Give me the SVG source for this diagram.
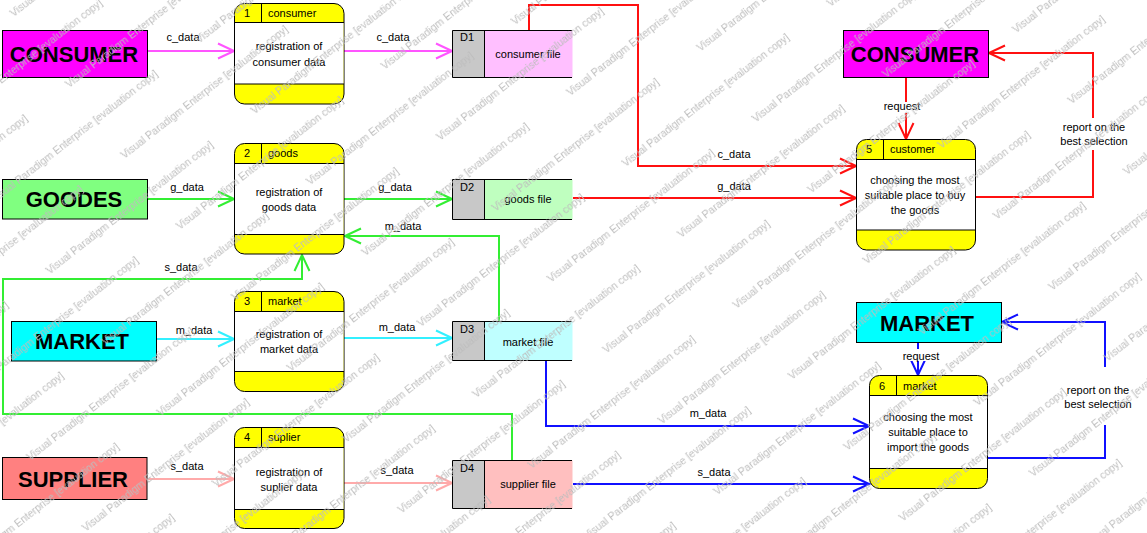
<svg xmlns="http://www.w3.org/2000/svg" width="1147" height="533" viewBox="0 0 1147 533">
  <style>
    text { font-family: "Liberation Sans", Arial, sans-serif; fill: #000; }
    .ent { stroke: #000; stroke-width: 1; }
    .ent-t { font-size: 22px; font-weight: bold; text-anchor: middle; }
    .proc { fill: #ffff00; stroke: #000; stroke-width: 1; }
    .body { fill: #fff; }
    .rule { stroke: #000; stroke-width: 1; fill: none; }
    .t { font-size: 11px; }
    .c { text-anchor: middle; }
    .store-id { fill: #c8c8c8; }
    .flow { fill: none; stroke-width: 2; }
    .gap { fill: #fff; }
    .wm { font-size: 10.5px; fill: #bdbdbd; }
  </style>
  <defs>
    <marker id="ah-mag" markerUnits="userSpaceOnUse" viewBox="-18 -10 20 20" refX="0" refY="0" markerWidth="20" markerHeight="20" orient="auto"><path d="M-16,-7.5 L0,0 L-16,7.5" fill="none" stroke="#ff55ff" stroke-width="2"/></marker>
    <marker id="ah-grn" markerUnits="userSpaceOnUse" viewBox="-18 -10 20 20" refX="0" refY="0" markerWidth="20" markerHeight="20" orient="auto"><path d="M-16,-7.5 L0,0 L-16,7.5" fill="none" stroke="#33ee33" stroke-width="2"/></marker>
    <marker id="ah-cyn" markerUnits="userSpaceOnUse" viewBox="-18 -10 20 20" refX="0" refY="0" markerWidth="20" markerHeight="20" orient="auto"><path d="M-16,-7.5 L0,0 L-16,7.5" fill="none" stroke="#33f0ff" stroke-width="2"/></marker>
    <marker id="ah-pnk" markerUnits="userSpaceOnUse" viewBox="-18 -10 20 20" refX="0" refY="0" markerWidth="20" markerHeight="20" orient="auto"><path d="M-16,-7.5 L0,0 L-16,7.5" fill="none" stroke="#ffaaaa" stroke-width="2"/></marker>
    <marker id="ah-red" markerUnits="userSpaceOnUse" viewBox="-18 -10 20 20" refX="0" refY="0" markerWidth="20" markerHeight="20" orient="auto"><path d="M-16,-7.5 L0,0 L-16,7.5" fill="none" stroke="#ff1010" stroke-width="2"/></marker>
    <marker id="ah-blu" markerUnits="userSpaceOnUse" viewBox="-18 -10 20 20" refX="0" refY="0" markerWidth="20" markerHeight="20" orient="auto"><path d="M-16,-7.5 L0,0 L-16,7.5" fill="none" stroke="#1010ff" stroke-width="2"/></marker>
    <pattern id="watermark" patternUnits="userSpaceOnUse" width="260" height="90" patternTransform="rotate(-38)">
      <text class="wm" x="0" y="22">Visual Paradigm Enterprise [evaluation copy]</text>
      <text class="wm" x="130" y="67">Visual Paradigm Enterprise [evaluation copy]</text>
      <text class="wm" x="-130" y="67">Visual Paradigm Enterprise [evaluation copy]</text>
    </pattern>
  </defs>

  <rect width="1147" height="533" fill="#fff"/>

  <!-- connectors -->
  <g id="connectors">
    <path class="flow" stroke="#ff55ff" d="M148,51 H234" marker-end="url(#ah-mag)"/>
    <text class="t c" x="183" y="41">c_data</text>
    <path class="flow" stroke="#ff55ff" d="M344,51 H452" marker-end="url(#ah-mag)"/>
    <text class="t c" x="393" y="41">c_data</text>

    <path class="flow" stroke="#33ee33" d="M148,199 H234" marker-end="url(#ah-grn)"/>
    <text class="t c" x="187" y="191">g_data</text>
    <path class="flow" stroke="#33ee33" d="M344,199 H452" marker-end="url(#ah-grn)"/>
    <text class="t c" x="395" y="191">g_data</text>
    <path class="flow" stroke="#33ee33" d="M499,321 V236 H345" marker-end="url(#ah-grn)"/>
    <text class="t c" x="403" y="230">m_data</text>
    <path class="flow" stroke="#33ee33" d="M512,460 V414 H3 V279 H302 V255" marker-end="url(#ah-grn)"/>
    <text class="t c" x="181" y="271">s_data</text>

    <path class="flow" stroke="#33f0ff" d="M157,339 H234" marker-end="url(#ah-cyn)"/>
    <text class="t c" x="194" y="334">m_data</text>
    <path class="flow" stroke="#33f0ff" d="M344,338 H452" marker-end="url(#ah-cyn)"/>
    <text class="t c" x="397" y="331">m_data</text>

    <path class="flow" stroke="#ffaaaa" d="M147,479 H234" marker-end="url(#ah-pnk)"/>
    <text class="t c" x="187" y="470">s_data</text>
    <path class="flow" stroke="#ffaaaa" d="M344,483 H452" marker-end="url(#ah-pnk)"/>
    <text class="t c" x="397" y="474">s_data</text>

    <path class="flow" stroke="#ff1010" d="M529,30 V5 H638 V166 H856" marker-end="url(#ah-red)"/>
    <text class="t c" x="734" y="158">c_data</text>
    <path class="flow" stroke="#ff1010" d="M573,198 H856" marker-end="url(#ah-red)"/>
    <text class="t c" x="734" y="190">g_data</text>
    <path class="flow" stroke="#ff1010" d="M906,78 V139" marker-end="url(#ah-red)"/>
    <rect class="gap" x="882" y="102" width="40" height="11"/>
    <text class="t c" x="902" y="110">request</text>
    <path class="flow" stroke="#ff1010" d="M976,197 H1093 V53 H989" marker-end="url(#ah-red)"/>
    <rect class="gap" x="1059" y="118" width="70" height="32"/>
    <text class="t c" x="1094" y="131">report on the</text>
    <text class="t c" x="1094" y="145">best selection</text>

    <path class="flow" stroke="#1010ff" d="M546,361 V426 H869" marker-end="url(#ah-blu)"/>
    <text class="t c" x="708" y="417">m_data</text>
    <path class="flow" stroke="#1010ff" d="M573,484 H869" marker-end="url(#ah-blu)"/>
    <text class="t c" x="714" y="476">s_data</text>
    <path class="flow" stroke="#1010ff" d="M918,343 V375" marker-end="url(#ah-blu)"/>
    <rect class="gap" x="902" y="349" width="40" height="12"/>
    <text class="t c" x="921" y="360">request</text>
    <path class="flow" stroke="#1010ff" d="M988,458 H1105 V322 H1002" marker-end="url(#ah-blu)"/>
    <rect class="gap" x="1064" y="367" width="70" height="58"/>
    <text class="t c" x="1098" y="394">report on the</text>
    <text class="t c" x="1098" y="408">best selection</text>
  </g>

  <!-- external entities -->
  <g id="ent-consumer-left">
    <rect class="ent" x="2.5" y="30.5" width="145" height="47" fill="#ff00ff"/>
    <text class="ent-t" x="74" y="62">CONSUMER</text>
  </g>
  <g id="ent-goodes">
    <rect class="ent" x="2.5" y="179.5" width="145" height="39.5" fill="#80ff80"/>
    <text class="ent-t" x="74" y="207">GOODES</text>
  </g>
  <g id="ent-market-left">
    <rect class="ent" x="11.5" y="321.5" width="145" height="39.5" fill="#00ffff"/>
    <text class="ent-t" x="82" y="349">MARKET</text>
  </g>
  <g id="ent-supplier">
    <rect class="ent" x="2.5" y="457.5" width="144.5" height="42" fill="#ff8080"/>
    <text class="ent-t" x="73" y="487">SUPPLIER</text>
  </g>
  <g id="ent-consumer-right">
    <rect class="ent" x="843.5" y="30.5" width="145" height="47" fill="#ff00ff"/>
    <text class="ent-t" x="915" y="62">CONSUMER</text>
  </g>
  <g id="ent-market-right">
    <rect class="ent" x="856.5" y="302.5" width="145" height="40" fill="#00ffff"/>
    <text class="ent-t" x="927" y="331">MARKET</text>
  </g>

  <!-- processes -->
  <g id="proc-1">
    <rect class="proc" x="234.5" y="3.5" width="109.5" height="100.5" rx="10"/>
    <rect class="body" x="235" y="22.5" width="108.5" height="61.5"/>
    <path class="rule" d="M234.5,22.5 H344 M234.5,84 H344 M261.5,3.5 V22.5"/>
    <text class="t c" x="247" y="17">1</text>
    <text class="t" x="268" y="17">consumer</text>
    <text class="t c" x="289" y="50">registration of</text>
    <text class="t c" x="289" y="66">consumer data</text>
  </g>
  <g id="proc-2">
    <rect class="proc" x="234.5" y="143.5" width="109.5" height="110.5" rx="10"/>
    <rect class="body" x="235" y="163.5" width="108.5" height="71"/>
    <path class="rule" d="M234.5,163.5 H344 M234.5,234.5 H344 M261.5,143.5 V163.5"/>
    <text class="t c" x="247" y="157">2</text>
    <text class="t" x="268" y="157">goods</text>
    <text class="t c" x="289" y="196">registration of</text>
    <text class="t c" x="289" y="211">goods data</text>
  </g>
  <g id="proc-3">
    <rect class="proc" x="234.5" y="291.5" width="109.5" height="100" rx="10"/>
    <rect class="body" x="235" y="311.5" width="108.5" height="60"/>
    <path class="rule" d="M234.5,311.5 H344 M234.5,371.5 H344 M261.5,291.5 V311.5"/>
    <text class="t c" x="247" y="305">3</text>
    <text class="t" x="268" y="305">market</text>
    <text class="t c" x="289" y="338">registration of</text>
    <text class="t c" x="289" y="353">market data</text>
  </g>
  <g id="proc-4">
    <rect class="proc" x="234.5" y="427.5" width="109.5" height="101" rx="10"/>
    <rect class="body" x="235" y="447.5" width="108.5" height="62"/>
    <path class="rule" d="M234.5,447.5 H344 M234.5,509.5 H344 M261.5,427.5 V447.5"/>
    <text class="t c" x="247" y="441">4</text>
    <text class="t" x="268" y="441">suplier</text>
    <text class="t c" x="289" y="476">registration of</text>
    <text class="t c" x="289" y="491">suplier data</text>
  </g>
  <g id="proc-5">
    <rect class="proc" x="856.5" y="139.5" width="119" height="110.5" rx="10"/>
    <rect class="body" x="857" y="159.5" width="118" height="70.5"/>
    <path class="rule" d="M856.5,159.5 H975.5 M856.5,230 H975.5 M883.5,139.5 V159.5"/>
    <text class="t c" x="869" y="153">5</text>
    <text class="t" x="890" y="153">customer</text>
    <text class="t c" x="915" y="184">choosing the most</text>
    <text class="t c" x="915" y="199">suitable place to buy</text>
    <text class="t c" x="915" y="214">the goods</text>
  </g>
  <g id="proc-6">
    <rect class="proc" x="869.5" y="375.5" width="118" height="113" rx="10"/>
    <rect class="body" x="870" y="395.5" width="117" height="73"/>
    <path class="rule" d="M869.5,395.5 H987.5 M869.5,468.5 H987.5 M896.5,375.5 V395.5"/>
    <text class="t c" x="882" y="390">6</text>
    <text class="t" x="903" y="390">market</text>
    <text class="t c" x="928" y="421">choosing the most</text>
    <text class="t c" x="928" y="436">suitable place to</text>
    <text class="t c" x="928" y="451">import the goods</text>
  </g>

  <!-- data stores -->
  <g id="store-d1">
    <rect x="484.5" y="30.5" width="88" height="47" fill="#ffbfff"/>
    <rect class="store-id" x="452.5" y="30.5" width="32" height="47"/>
    <path class="rule" d="M572,30.5 H452.5 V77.5 H572 M484.5,30.5 V77.5"/>
    <text class="t c" x="467" y="41">D1</text>
    <text class="t c" x="528" y="58">consumer file</text>
  </g>
  <g id="store-d2">
    <rect x="484.5" y="179.5" width="88" height="40" fill="#bfffbf"/>
    <rect class="store-id" x="452.5" y="179.5" width="32" height="40"/>
    <path class="rule" d="M572,179.5 H452.5 V219.5 H572 M484.5,179.5 V219.5"/>
    <text class="t c" x="467" y="191">D2</text>
    <text class="t c" x="528" y="203">goods file</text>
  </g>
  <g id="store-d3">
    <rect x="484.5" y="321.5" width="88" height="39" fill="#bfffff"/>
    <rect class="store-id" x="452.5" y="321.5" width="32" height="39"/>
    <path class="rule" d="M572,321.5 H452.5 V360.5 H572 M484.5,321.5 V360.5"/>
    <text class="t c" x="467" y="333">D3</text>
    <text class="t c" x="528" y="346">market file</text>
  </g>
  <g id="store-d4">
    <rect x="484.5" y="460.5" width="88" height="48" fill="#ffbfbf"/>
    <rect class="store-id" x="452.5" y="460.5" width="32" height="48"/>
    <path class="rule" d="M572,460.5 H452.5 V508.5 H572 M484.5,460.5 V508.5"/>
    <text class="t c" x="467" y="472">D4</text>
    <text class="t c" x="528" y="488">supplier file</text>
  </g>

  <!-- evaluation watermark overlay -->
  <rect width="1147" height="533" fill="url(#watermark)" pointer-events="none"/>
</svg>
